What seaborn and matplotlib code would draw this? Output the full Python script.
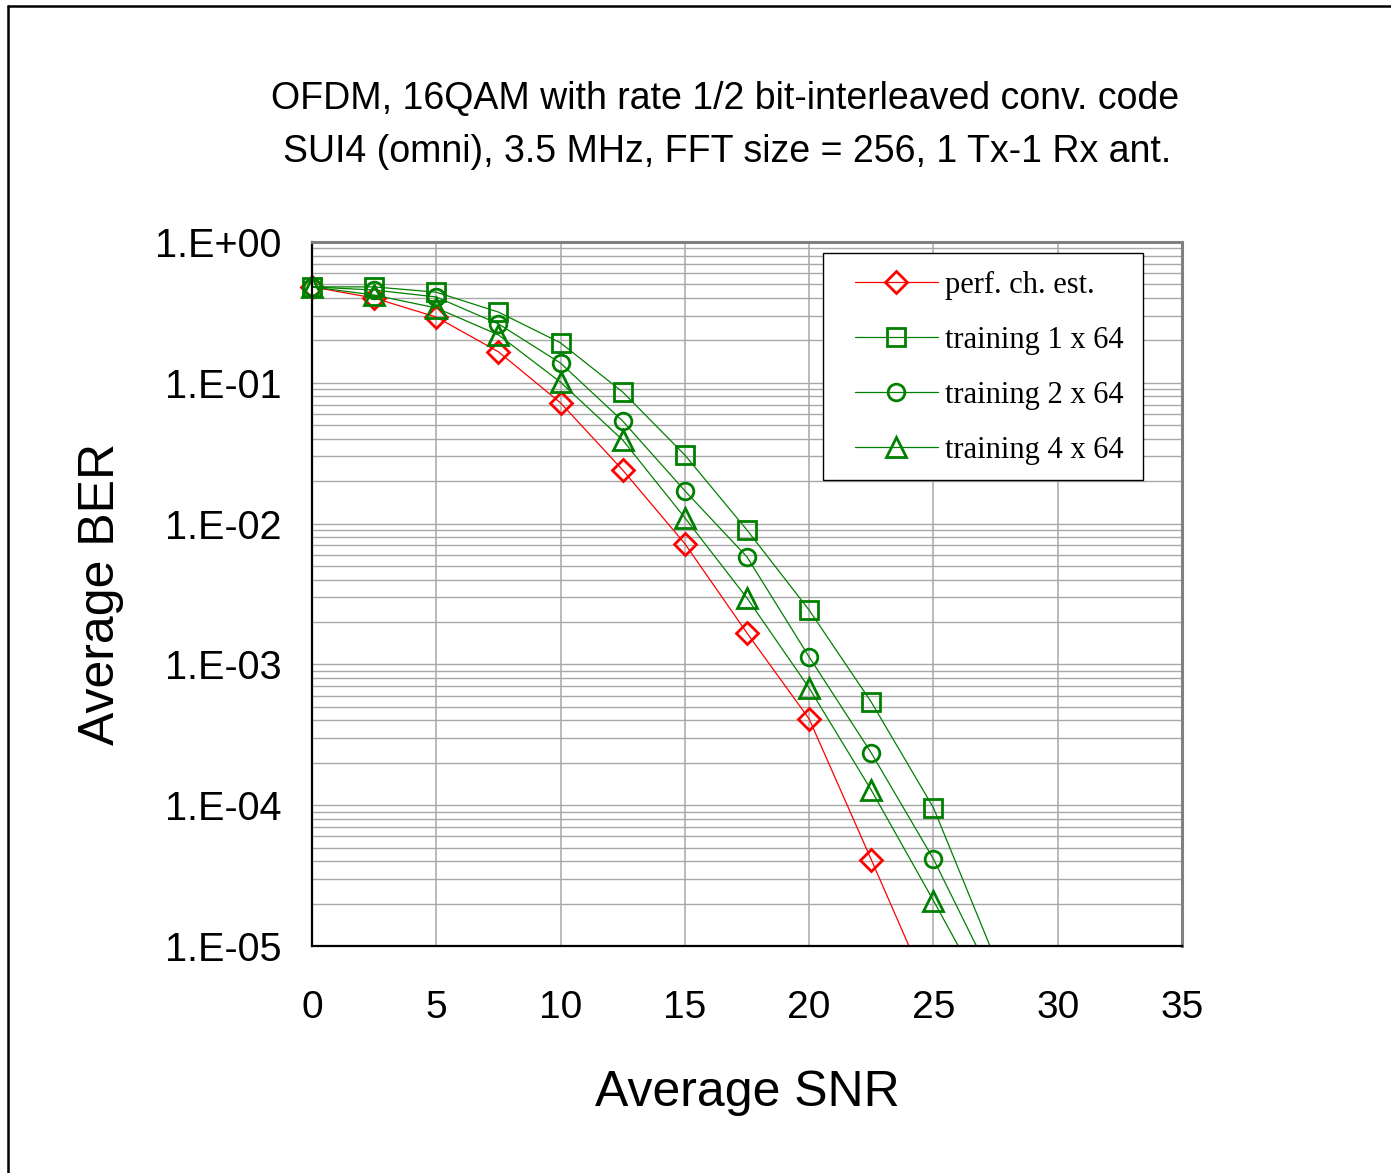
import matplotlib.pyplot as plt
from matplotlib.lines import Line2D
from matplotlib.patches import Rectangle
from matplotlib.ticker import MultipleLocator, LogLocator, NullFormatter
import seaborn as sns

# data
snr_perf = [0, 2.5, 5, 7.5, 10, 12.5, 15, 17.5, 20, 22.5, 25]
ber_perf = [0.48, 0.40, 0.293, 0.166, 0.072, 0.024, 0.0072, 0.00167, 4.1e-4, 4.1e-5, 4e-6]

snr_train = [0, 2.5, 5, 7.5, 10, 12.5, 15, 17.5, 20, 22.5, 25, 27.5]
ber_train1 = [0.48, 0.48, 0.44, 0.318, 0.192, 0.086, 0.0307, 0.0090, 0.00243, 5.4e-4, 9.6e-5, 8e-6]
ber_train2 = [0.48, 0.456, 0.407, 0.262, 0.138, 0.0535, 0.0171, 0.0058, 0.00113, 2.35e-4, 4.15e-5, 5.3e-6]
ber_train4 = [0.48, 0.42, 0.34, 0.219, 0.101, 0.0392, 0.011, 0.00296, 6.8e-4, 1.28e-4, 2.1e-5, 3.3e-6]

labels = ['perf. ch. est.', 'training 1 x 64', 'training 2 x 64', 'training 4 x 64']
ytick_vals = [1e0, 1e-1, 1e-2, 1e-3, 1e-4, 1e-5]
ytick_labels = ['1.E+00', '1.E-01', '1.E-02', '1.E-03', '1.E-04', '1.E-05']
title_lines = ['OFDM, 16QAM with rate 1/2 bit-interleaved conv. code',
               'SUI4 (omni), 3.5 MHz, FFT size = 256, 1 Tx-1 Rx ant.']

sns.set_style('white', rc={'text.color': 'black', 'axes.labelcolor': 'black',
                           'xtick.color': 'black', 'ytick.color': 'black'})
plt.rcParams['font.family'] = ['Liberation Sans', 'DejaVu Sans']

W, H = 1391, 1173
fig = plt.figure(figsize=(W / 100, H / 100), dpi=100)
ax = fig.add_axes([312 / W, 1 - 946 / H, 870 / W, 704 / H])

RED = '#FF0000'
GREEN = '#008000'
series = [
    (snr_perf, ber_perf, RED, 'D', 11),
    (snr_train, ber_train1, GREEN, 's', 12.5),
    (snr_train, ber_train2, GREEN, 'o', 12),
    (snr_train, ber_train4, GREEN, '^', 14),
]
for (x, y, c, m, ms), lab in zip(series, labels):
    sns.lineplot(x=x, y=y, color=c, marker=m, markersize=ms, mfc='none',
                 mec=c, mew=2, lw=0.9, label=lab, ax=ax)

# let markers overhang the left edge, but clip at the bottom
clip = Rectangle((-0.05, 0), 1.1, 1.1, transform=ax.transAxes)
for ln in ax.get_lines():
    ln.set_clip_path(clip)

ax.set_yscale('log')
ax.set_xlim(0, 35)
ax.set_ylim(1e-5, 1)
ax.xaxis.set_major_locator(MultipleLocator(5))
ax.xaxis.set_minor_locator(MultipleLocator(1))
ax.set_yticks(ytick_vals, ytick_labels)
ax.yaxis.set_minor_locator(LogLocator(base=10, subs=range(2, 10)))
ax.yaxis.set_minor_formatter(NullFormatter())

ax.tick_params(axis='x', which='major', direction='out', length=9, width=1.2,
               colors='black', labelsize=28, pad=23)
ax.tick_params(axis='x', which='minor', direction='in', length=6, width=1.2, color='black')
ax.tick_params(axis='y', which='major', direction='in', length=7, width=1.5,
               color='#555555', labelcolor='black', labelsize=28.5, pad=22)
ax.tick_params(axis='y', which='minor', length=0)

ax.grid(True, which='major', axis='x', color='#A8A8A8', lw=1.1)
ax.grid(True, which='both', axis='y', color='#A8A8A8', lw=1.0)
ax.set_axisbelow(True)

for s in ['left', 'bottom']:
    ax.spines[s].set_color('black')
    ax.spines[s].set_linewidth(1.6)
for s in ['top', 'right']:
    ax.spines[s].set_color('#808080')
    ax.spines[s].set_linewidth(2.2)

ax.set_xlabel('Average SNR', fontsize=36)
ax.set_ylabel('Average BER', fontsize=36)
ax.xaxis.set_label_coords(0.5, -0.176)
ax.yaxis.set_label_coords(-0.2165, 0.5)

# legend box drawn separately so the entries can sit inside it freely
box = Rectangle(((823 - 312) / 870, (946 - 480) / 704), 320 / 870, 227 / 704,
                transform=ax.transAxes, facecolor='white', edgecolor='black',
                lw=1.0, zorder=4.9)
ax.add_patch(box)
leg = ax.legend(loc='upper left', bbox_to_anchor=((855 - 312) / 870, (946 - 271) / 704),
                borderaxespad=0, borderpad=0, frameon=False,
                prop={'family': 'Liberation Serif', 'size': 22},
                handlelength=2.7, handletextpad=0.25, labelspacing=0.85)
leg.set_zorder(5)

fig.text(725 / W, 1 - 99 / H, title_lines[0], ha='center', va='center', fontsize=27)
fig.text(727 / W, 1 - 152 / H, title_lines[1], ha='center', va='center', fontsize=27)

# outer frame of the chart object
fig.add_artist(Line2D([8 / W, 1], [1 - 6 / H, 1 - 6 / H], color='black', lw=1.8))
fig.add_artist(Line2D([8 / W, 8 / W], [0, 1 - 6 / H], color='black', lw=1.8))

fig.savefig('out.png', dpi=100)
